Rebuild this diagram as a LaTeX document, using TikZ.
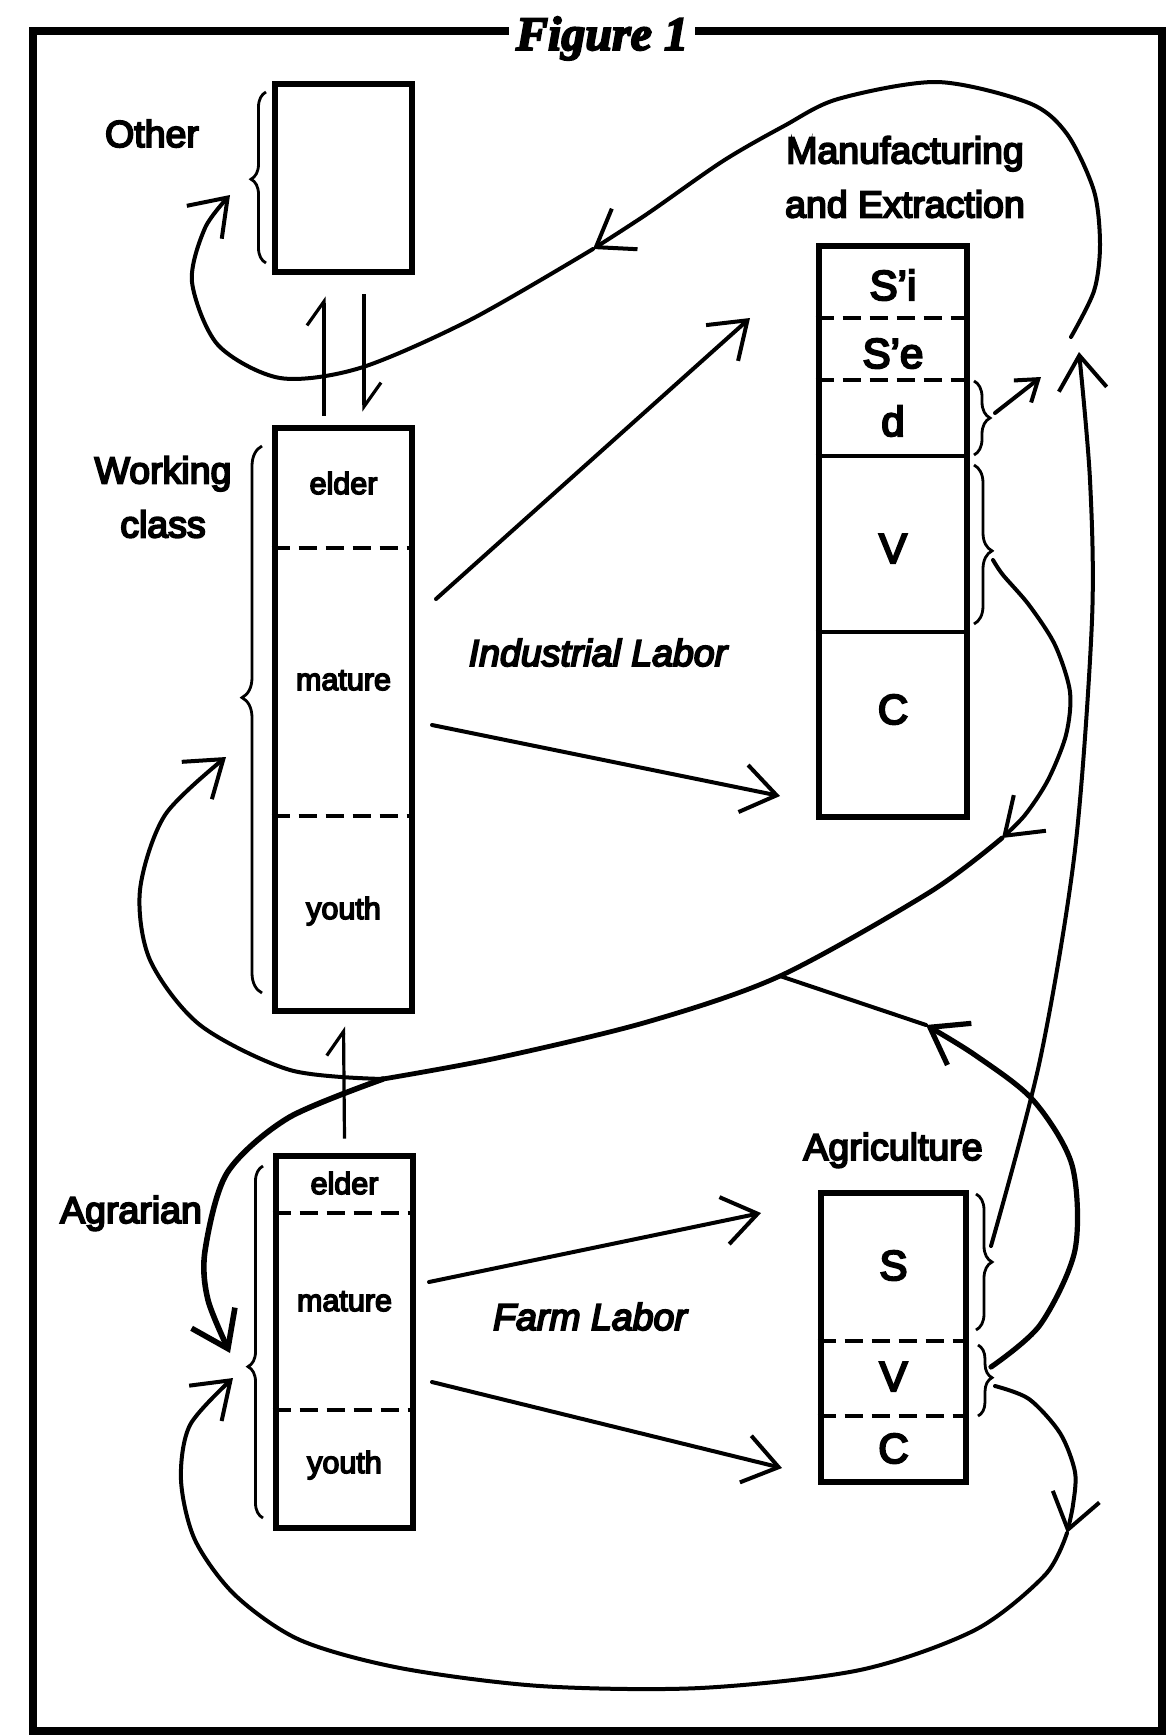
\documentclass[tikz,border=0pt]{standalone}
\usepackage{fontspec}
\setmainfont{Liberation Sans}[FakeBold=5]
\newfontfamily\figfont{Liberation Serif}[FakeBold=4]
\usetikzlibrary{arrows.meta,decorations.pathreplacing}

\tikzset{
  box/.style={draw, line width=3.4pt, inner sep=0pt},
  lbl/.style={font=\fontsize{18.75}{27}\selectfont, align=center},
  cell/.style={font=\fontsize{15.25}{18}\selectfont, anchor=base},
  sym/.style={font=\fontsize{21}{24}\selectfont, anchor=base},
  cut/.style={line width=2pt, dash pattern=on 9pt off 4.5pt},
  rule/.style={line width=2.2pt},
  cbrace/.style 2 args={decorate, decoration={brace, amplitude=#1, aspect=#2}, line width=1.4pt},
  conn/.style={line width=2pt, line cap=round, line join=round},
  flow/.style={conn, -{Straight Barb[length=17pt,width=24pt]}},
  harp/.style={line width=1.6pt, -{Straight Barb[left,length=12pt,width=17pt]}},
}

\begin{document}
\begin{tikzpicture}[x=0.5pt, y=-0.5pt]
\useasboundingbox (0,0) rectangle (1170,1735);

% title and frame
\node[font=\figfont\bfseries\itshape\fontsize{24}{28}\selectfont, anchor=base] (title) at (602,50) {Figure 1};
\draw[line width=3.6pt] (title.west |- 0,31) -- (33,31) -- (33,1731) -- (1162,1731) -- (1162,31) -- (title.east |- 0,31);

% boxes
\node[box, minimum width=68.5pt, minimum height=94pt] (other) at (343.5,178) {};
\node[box, minimum width=68.5pt, minimum height=291.5pt] (wc) at (343.5,719.5) {};
\node[box, minimum width=68.5pt, minimum height=186pt] (agr) at (344.5,1342) {};
\node[box, minimum width=74pt, minimum height=285.5pt] (mfg) at (893,531.5) {};
\node[box, minimum width=72.5pt, minimum height=144.5pt] (agc) at (893.5,1337.5) {};

% divisions
\draw[cut] (wc.west |- 0,548) -- (wc.east |- 0,548);
\draw[cut] (wc.west |- 0,816) -- (wc.east |- 0,816);
\draw[cut] (agr.west |- 0,1213) -- (agr.east |- 0,1213);
\draw[cut] (agr.west |- 0,1410) -- (agr.east |- 0,1410);
\draw[cut] (mfg.west |- 0,318) -- (mfg.east |- 0,318);
\draw[cut] (mfg.west |- 0,380) -- (mfg.east |- 0,380);
\draw[rule] (mfg.west |- 0,456) -- (mfg.east |- 0,456);
\draw[rule] (mfg.west |- 0,632) -- (mfg.east |- 0,632);
\draw[cut] (agc.west |- 0,1341) -- (agc.east |- 0,1341);
\draw[cut] (agc.west |- 0,1416) -- (agc.east |- 0,1416);

% cell texts
\node[cell] (wce) at (343.5,494) {elder};
\node[cell] (wcm) at (343.5,690) {mature};
\node[cell] (wcy) at (343.5,919) {youth};
\node[cell] (agre) at (344.5,1194) {elder};
\node[cell] (agrm) at (344.5,1311) {mature};
\node[cell] (agry) at (344.5,1473) {youth};
\node[sym] (msi) at (893,300) {S'i};
\node[sym] (mse) at (893,368) {S'e};
\node[sym] (mdd) at (893,436) {d};
\node[sym] (mvv) at (893,563) {V};
\node[sym] (mcc) at (893,724) {C};
\node[sym] (ass) at (893.5,1280) {S};
\node[sym] (avv) at (893.5,1391) {V};
\node[sym] (acc) at (893.5,1463) {C};

% labels
\node[lbl, anchor=base] (othlbl) at (152,147) {Other};
\node[lbl] (wclbl) at (163,497) {Working\\class};
\node[lbl, anchor=base] (agrlbl) at (131,1223) {Agrarian};
\node[lbl] (mfglbl) at (905,177) {Manufacturing\\and Extraction};
\node[lbl, anchor=base] (agclbl) at (893,1160) {Agriculture};
\node[lbl, anchor=base] (indlbl) at (598,666) {\itshape Industrial Labor};
\node[lbl, anchor=base] (farmlbl) at (590,1330) {\itshape Farm Labor};

% braces
\draw[cbrace={7.5pt}{0.49}] (266,263) -- (266,92);
\draw[cbrace={10pt}{0.54}] (262,993) -- (262,446);
\draw[cbrace={7.5pt}{0.43}] (263,1518) -- (263,1166);
\draw[cbrace={8pt}{0.5}] (974,381) -- (974,455);
\draw[cbrace={9pt}{0.54}] (974,465) -- (974,624);
\draw[cbrace={8pt}{0.5}] (976,1194) -- (976,1330);
\draw[cbrace={7pt}{0.46}] (978,1345) -- (978,1416);

% ends of the connectors
\coordinate (othin) at (230,195);
\coordinate (wcin) at (226,757);
\coordinate (agrin) at (230,1353);
\coordinate (agrin2) at (233,1378);
\coordinate (dout) at (995,413);
\coordinate (dend) at (1041,377);
\coordinate (vout) at (993,560);
\coordinate (sout) at (991,1246);
\coordinate (send) at (1079,352);
\coordinate (avup) at (991,1367);
\coordinate (avdown) at (995,1386);
\coordinate (loop) at (1071,337);
\coordinate (junc) at (383,1079);
\coordinate (merge) at (780,976);
\coordinate (midtop) at (593,249);
\coordinate (midv) at (1002,838);
\coordinate (midagv) at (926,1025);
\coordinate (midbot) at (1067,1533);
\coordinate (ind1a) at (436,599);
\coordinate (ind1b) at (750,318);
\coordinate (ind2a) at (432,725);
\coordinate (ind2b) at (780,796);
\coordinate (farm1a) at (429,1282);
\coordinate (farm1b) at (761,1213);
\coordinate (farm2a) at (432,1382);
\coordinate (farm2b) at (782,1468);

% between the classes
\draw[harp] ([xshift=-9.75pt, yshift=4.5pt]wc.north) -- ([xshift=-9.75pt, yshift=-10.5pt]other.south);
\draw[harp] ([xshift=10.25pt, yshift=-9.5pt]other.south) -- ([xshift=10.25pt, yshift=6.5pt]wc.north);
\draw[harp] ([yshift=7pt]agr.north) -- ([yshift=-6pt]wc.south);

% labour
\draw[flow] (ind1a) -- (ind1b);
\draw[flow] (ind2a) -- (ind2b);
\draw[flow] (farm1a) -- (farm1b);
\draw[flow] (farm2a) -- (farm2b);

% d and S into the loop
\draw[flow, -{Straight Barb[length=10pt,width=14pt]}] (dout) -- (dend);
\draw[flow] plot[smooth] coordinates {(sout) (1040,1060) (1075,850) (1092,620) (1090,480) (send)};

% loop to Other
\draw[flow] plot[smooth] coordinates {(loop) (1094,291) (1100,245) (1094,191) (1067,134) (1029,103) (937,82) (838,99) (784,126) (723,161) (647,214) (midtop)};
\draw[flow] plot[smooth] coordinates {(midtop) (470,320) (360,368) (280,378) (218,345) (192,282) (205,228) (othin)};

% V of manufacturing back to the workers
\draw[flow] plot[smooth] coordinates {(vout) (1003,575) (1029,605) (1055,645) (1070,692) (1066,735) (1048,780) (1025,815) (midv)};
\draw[conn, line width=2.4pt] plot[smooth] coordinates {(midv) (930,892) (merge) (647,1022) (497,1058) (junc)};
\draw[flow] plot[smooth] coordinates {(junc) (290,1070) (200,1025) (150,960) (140,890) (165,815) (wcin)};
\draw[flow, line width=2.8pt] plot[smooth] coordinates {(junc) (288,1118) (227,1173) (205,1251) (208,1300) (agrin)};

% V of agriculture
\draw[flow, line width=2.6pt] plot[smooth] coordinates {(avup) (1040,1325) (1075,1250) (1072,1165) (1033,1100) (975,1055) (midagv)};
\draw[conn] (midagv) -- (merge);
\draw[flow] plot[smooth] coordinates {(avdown) (1029,1399) (1060,1433) (1075,1472) (1073,1505) (midbot)};
\draw[flow] plot[smooth] coordinates {(midbot) (1045,1575) (975,1630) (860,1670) (700,1688) (540,1686) (400,1668) (300,1640) (235,1595) (195,1540) (181,1480) (190,1425) (agrin2)};
\end{tikzpicture}
\end{document}
